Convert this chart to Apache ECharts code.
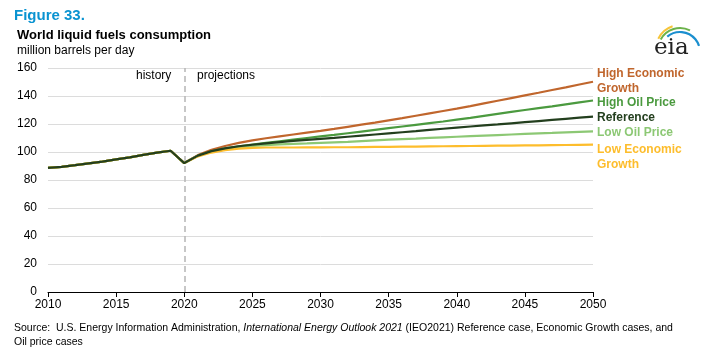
<!DOCTYPE html>
<html><head><meta charset="utf-8">
<script src="https://cdn.jsdelivr.net/npm/echarts@6/dist/echarts.min.js"></script>
<style>html,body{margin:0;padding:0;background:#fff}#c{width:718px;height:353px}</style>
</head><body><div id="c"></div>
<script>
const historyYears = [2010,2011,2012,2013,2014,2015,2016,2017,2018,2019,2020];
const historyValues = [88.6,89.4,90.6,91.9,93.1,94.7,96.2,98.0,99.5,100.9,92.1];
const projYears = [2021,2022,2023,2024,2025,2026,2027,2028,2029,2030,2031,2032,2033,2034,2035,2036,2037,2038,2039,2040,2041,2042,2043,2044,2045,2046,2047,2048,2049,2050];
const highEcon = [97.8,101.5,104.3,106.5,108.3,109.8,111.2,112.5,113.8,115.1,116.5,118.0,119.5,121.0,122.6,124.2,125.9,127.6,129.3,131.0,132.8,134.7,136.6,138.5,140.4,142.3,144.3,146.2,148.2,150.2];
const highOil = [97.3,100.5,102.6,104.1,105.3,106.5,107.7,108.9,110.0,111.1,112.2,113.4,114.6,115.8,117.0,118.2,119.4,120.6,121.8,123.1,124.4,125.8,127.2,128.6,130.0,131.3,132.6,134.0,135.4,136.8];
const reference = [97.4,100.6,102.6,104.1,105.2,106.2,107.1,107.9,108.7,109.4,110.1,110.9,111.7,112.5,113.3,114.1,114.9,115.8,116.6,117.4,118.2,119.0,119.7,120.5,121.3,122.1,122.9,123.7,124.5,125.3];
const lowOil = [97.2,100.2,102.0,103.4,104.3,104.9,105.4,105.8,106.1,106.5,106.9,107.3,107.8,108.3,108.8,109.2,109.6,110.1,110.5,110.9,111.3,111.7,112.1,112.5,112.9,113.3,113.6,114.0,114.4,114.7];
const lowEcon = [96.9,99.6,101.3,102.4,103.0,103.2,103.2,103.2,103.3,103.3,103.4,103.4,103.5,103.6,103.7,103.8,103.9,104.0,104.1,104.2,104.3,104.4,104.5,104.6,104.7,104.8,104.9,105.0,105.1,105.2];
const xTicks = [2010,2015,2020,2025,2030,2035,2040,2045,2050];
const yTicks = [0,20,40,60,80,100,120,140,160];

function pairs(vals){
  const ys = historyYears.concat(projYears);
  const vs = historyValues.concat(vals);
  return ys.map((y,i)=>[y,vs[i]]);
}
const seriesDefs = [
  {name:'High Economic Growth', data:highEcon, color:'#c0662d'},
  {name:'High Oil Price', data:highOil, color:'#4b9a3f'},
  {name:'Low Oil Price', data:lowOil, color:'#8cc874'},
  {name:'Low Economic Growth', data:lowEcon, color:'#fdbd2c'},
  {name:'Reference', data:reference, color:'#233f1e'}
];
const chart = echarts.init(document.getElementById('c'));
const F = 'Liberation Sans, Arial, sans-serif';
chart.setOption({
  animation:false,
  grid:{left:48,right:125,top:68,bottom:61},
  xAxis:{type:'value',min:xTicks[0],max:xTicks[xTicks.length-1],interval:5,
    axisLine:{lineStyle:{color:'#000',width:1}},
    axisTick:{show:true,length:5,lineStyle:{color:'#000'}},
    axisLabel:{color:'#000',fontFamily:F,fontSize:12,margin:7,formatter:v=>String(v)},
    splitLine:{show:false}},
  yAxis:{type:'value',min:yTicks[0],max:yTicks[yTicks.length-1],interval:20,
    axisLine:{show:false},axisTick:{show:false},
    axisLabel:{color:'#000',fontFamily:F,fontSize:12,margin:11},
    splitLine:{lineStyle:{color:'#dcdcdc',width:1}}},
  series: seriesDefs.map((s,i)=>({
    type:'line',name:s.name,data:pairs(s.data),showSymbol:false,symbol:'none',
    lineStyle:{color:s.color,width:2.2},itemStyle:{color:s.color},z:2+i,
    markLine: i===0 ? {silent:true,symbol:'none',label:{show:false},
      lineStyle:{color:'#b5b5b5',type:[6,4],width:1.5},data:[{xAxis:2020}]} : undefined
  })),
  graphic:[
    {type:'text',left:14,top:8,style:{text:'Figure 33.',font:'bold 15px '+F,fill:'#0a93d1'}},
    {type:'text',left:17,top:29,style:{text:'World liquid fuels consumption',font:'bold 13px '+F,fill:'#000'}},
    {type:'text',left:17,top:45,style:{text:'million barrels per day',font:'12px '+F,fill:'#000'}},
    {type:'text',left:136,top:70,style:{text:'history',font:'12px '+F,fill:'#000'}},
    {type:'text',left:197,top:70,style:{text:'projections',font:'12px '+F,fill:'#000'}},
    {type:'text',left:597,top:66,style:{text:'High Economic\nGrowth',font:'bold 12px '+F,fill:'#c0662d',lineHeight:15}},
    {type:'text',left:597,top:97,style:{text:'High Oil Price',font:'bold 12px '+F,fill:'#4b9a3f'}},
    {type:'text',left:597,top:112,style:{text:'Reference',font:'bold 12px '+F,fill:'#233f1e'}},
    {type:'text',left:597,top:127,style:{text:'Low Oil Price',font:'bold 12px '+F,fill:'#8cc874'}},
    {type:'text',left:597,top:142,style:{text:'Low Economic\nGrowth',font:'bold 12px '+F,fill:'#fdbd2c',lineHeight:15}},
    {type:'text',left:14,top:323,style:{rich:{n:{font:'10.5px '+F,fill:'#000'},i:{font:'italic 10.5px '+F,fill:'#000'}},
      text:'{n|Source:  U.S. Energy Information Administration, }{i|International Energy Outlook 2021}{n| (IEO2021) Reference case, Economic Growth cases, and}'}},
    {type:'text',left:14,top:337,style:{text:'Oil price cases',font:'10.5px '+F,fill:'#000'}},
    {type:'text',left:654,top:37,style:{text:'eia',font:'23px DejaVu Serif, Liberation Serif, serif',fill:'#222'}},
    {type:'arc',shape:{cx:680,cy:49,r:24,startAngle:-Math.PI*0.86,endAngle:-Math.PI*0.6},style:{stroke:'#f6c53b',lineWidth:2,fill:null}},
    {type:'arc',shape:{cx:680,cy:50,r:22,startAngle:-Math.PI*0.84,endAngle:-Math.PI*0.35},style:{stroke:'#6bb24a',lineWidth:2,fill:null}},
    {type:'arc',shape:{cx:680,cy:52,r:20,startAngle:-Math.PI*0.72,endAngle:-Math.PI*0.1},style:{stroke:'#1b8fcf',lineWidth:2.2,fill:null}}
  ]
});
</script></body></html>
